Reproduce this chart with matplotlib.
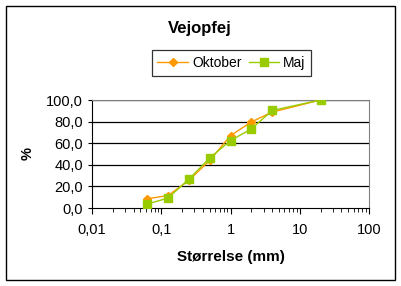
import matplotlib
matplotlib.use("Agg")
import matplotlib.pyplot as plt
from matplotlib.patches import Rectangle
from matplotlib.ticker import FixedLocator, LogLocator, NullFormatter

plt.rcParams['font.family'] = ['Liberation Sans', 'DejaVu Sans']

sizes = [0.063, 0.125, 0.25, 0.5, 1, 2, 4, 20]
oktober = [8.6, 11.5, 25.5, 44.0, 67.0, 79.7, 88.8, 100.0]
maj = [3.7, 9.2, 26.6, 46.2, 62.5, 73.2, 90.3, 100.0]
x_ticks = [0.01, 0.1, 1, 10, 100]
x_labels = ['0,01', '0,1', '1', '10', '100']
y_ticks = [0, 20, 40, 60, 80, 100]
y_labels = ['0,0', '20,0', '40,0', '60,0', '80,0', '100,0']

fig = plt.figure(figsize=(4.01, 2.86), dpi=100)
fig.patches.append(Rectangle((6/401, 6/286), 389/401, 274/286, transform=fig.transFigure,
                             fill=False, edgecolor='black', linewidth=1))
ax = fig.add_axes([92/401, 1-208/286, 277/401, 108/286])
ax.set_xscale('log')
ax.set_xlim(0.01, 100)
ax.set_ylim(0, 100)
for y in y_ticks[1:]:
    ax.axhline(y, color='black', linewidth=0.9, zorder=1)
ax.plot(sizes, oktober, color='#FF9900', marker='D', markersize=4, linewidth=1, label='Oktober', zorder=3)
ax.plot(sizes, maj, color='#99CC00', marker='s', markersize=6, linewidth=1, label='Maj', zorder=4)
ax.xaxis.set_major_locator(FixedLocator(x_ticks))
ax.set_xticklabels(x_labels)
ax.xaxis.set_minor_locator(LogLocator(base=10, subs=range(2, 10)))
ax.xaxis.set_minor_formatter(NullFormatter())
ax.set_yticks(y_ticks)
ax.set_yticklabels(y_labels)
ax.tick_params(axis='both', labelsize=10.5, colors='black', direction='out')
ax.tick_params(axis='x', which='major', length=4, pad=7)
ax.tick_params(axis='x', which='minor', length=3)
ax.tick_params(axis='y', length=3)
for s in ['top', 'right']:
    ax.spines[s].set_color('#808080')
for s in ['left', 'bottom']:
    ax.spines[s].set_color('black')
ax.set_xlabel('Størrelse (mm)', fontsize=11, fontweight='bold', labelpad=9)
ax.set_ylabel('%', fontsize=10.5, fontweight='bold', labelpad=8)
fig.text(200/401, 1-28/286, 'Vejopfej', ha='center', va='center', fontsize=12, fontweight='bold')
leg = fig.legend(loc='center', bbox_to_anchor=(231.5/401, 1-63/286), ncol=2, fontsize=10,
                 frameon=True, fancybox=False, edgecolor='black', handlelength=2.2,
                 columnspacing=0.5, handletextpad=0.3, borderpad=0.4)
leg.get_frame().set_linewidth(0.9)
fig.savefig('out.png', dpi=100)
